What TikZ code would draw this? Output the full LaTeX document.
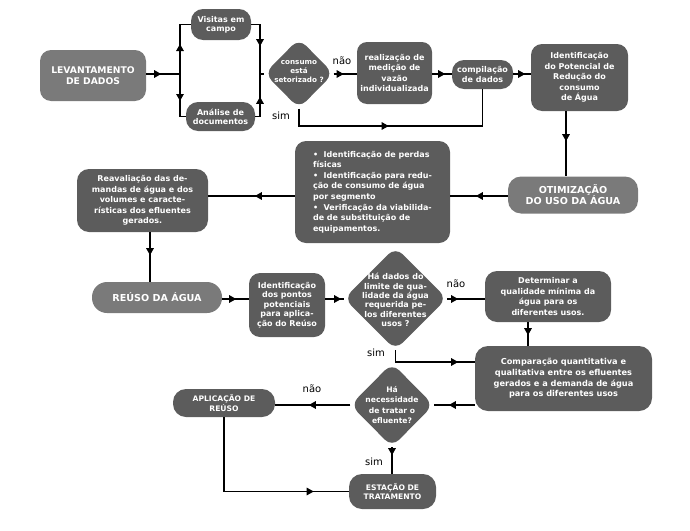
\documentclass[tikz,border=0pt]{standalone}
\usepackage{fontspec}
\setmainfont{DejaVu Sans}
\usetikzlibrary{shapes.geometric,arrows.meta,decorations.markings}
\definecolor{dk}{HTML}{5C5C5C}
\definecolor{lt}{HTML}{7A7A7A}
\begin{document}
\begin{tikzpicture}[x=1pt,y=-1pt,
 box/.style={fill=dk, text=white, rounded corners=10pt, font=\bfseries\fontsize{8}{10.6}\selectfont, align=center, inner sep=1pt},
 lbox/.style={box, fill=lt},
 diam/.style={diamond, fill=dk, rounded corners=10pt, inner sep=0pt},
 dtext/.style={text=white, font=\bfseries\fontsize{7.6}{9.5}\selectfont, align=center, inner sep=0pt},
 lab/.style={font=\fontsize{10}{12}\selectfont, inner sep=0pt},
 conn/.style={line width=1.3pt},
 ar/.style={postaction={decorate}, decoration={markings, mark=at position #1 with {\arrow{Triangle[length=7pt,width=7.5pt]}}}}
]
\useasboundingbox (0,0) rectangle (690,530);

% nodes
\node[lbox, minimum width=106pt, minimum height=51pt, rounded corners=11pt, font=\bfseries\fontsize{9.2}{11}\selectfont] (lev) at (93,75.5) {LEVANTAMENTO\\DE DADOS};
\node[box, minimum width=60pt, minimum height=31pt, rounded corners=12pt, font=\bfseries\fontsize{8}{9}\selectfont] (vis) at (221,24.5) {Visitas em\\campo};
\node[box, minimum width=69pt, minimum height=29pt, rounded corners=12pt, font=\bfseries\fontsize{8}{9}\selectfont] (ana) at (220.5,116.5) {Análise de\\documentos};
\node[diam, minimum width=69pt, minimum height=70pt] (d1) at (299,73.5) {};
\node[dtext, font=\bfseries\fontsize{7.2}{9.2}\selectfont] (t1) at (299,71.5) {consumo\\está\\setorizado ?};
\node[box, minimum width=75pt, minimum height=62pt] (rea) at (394.5,73) {realização de\\medição de\\vazão\\individualizada};
\node[box, minimum width=61pt, minimum height=29pt, rounded corners=12pt, font=\bfseries\fontsize{8}{10}\selectfont] (com) at (482.5,74.5) {compilação\\de dados};
\node[box, minimum width=97pt, minimum height=67pt, rounded corners=11pt] (ide) at (579.5,77.5) {Identificação\\do Potencial de\\Redução do\\consumo\\de Água};
\node[lbox, minimum width=130pt, minimum height=37pt, rounded corners=13pt, font=\bfseries\fontsize{9.6}{11}\selectfont] (oti) at (573,195) {OTIMIZAÇÃO\\DO USO DA ÁGUA};
\node[box, minimum width=155pt, minimum height=102pt, align=left, rounded corners=11pt] (bul) at (372.5,192) {•\ \ Identificação de perdas\\físicas\\•\ \ Identificação para redu-\\ção de consumo de água\\por segmento\\•\ \ Verificação da viabilida-\\de de substituição de\\equipamentos.};
\node[box, minimum width=131pt, minimum height=63pt, rounded corners=12pt] (rev) at (142.5,200.5) {Reavaliação das de-\\mandas de água e dos\\volumes e caracte-\\rísticas dos efluentes\\gerados.};
\node[lbox, minimum width=130pt, minimum height=31pt, rounded corners=15pt, font=\bfseries\fontsize{9.6}{11}\selectfont] (reu) at (157,297.5) {REÚSO DA ÁGUA};
\node[box, minimum width=76pt, minimum height=64pt, rounded corners=11pt, font=\bfseries\fontsize{8}{9.5}\selectfont] (idp) at (287,305) {Identificação\\dos pontos\\potenciais\\para aplica-\\ção do Reúso};
\node[diam, minimum width=103pt, minimum height=103pt] (d2) at (395.5,298.5) {};
\node[dtext, font=\bfseries\fontsize{8}{9.3}\selectfont] (t2) at (395.5,300) {Há dados do\\limite de qua-\\lidade da água\\requerida pe-\\los diferentes\\usos ?};
\node[box, minimum width=126pt, minimum height=51pt, rounded corners=12pt] (det) at (548,296.5) {Determinar a\\qualidade mínima da\\água para os\\diferentes usos.};
\node[box, minimum width=177pt, minimum height=65pt, rounded corners=13pt, font=\bfseries\fontsize{8.2}{10.6}\selectfont] (cmp) at (563.5,378.5) {Comparação quantitativa e\\qualitativa entre os efluentes\\gerados e a demanda de água\\para os diferentes usos};
\node[diam, minimum width=83pt, minimum height=84pt] (d3) at (392,405) {};
\node[dtext, font=\bfseries\fontsize{7.6}{10.5}\selectfont] (t3) at (d3) {Há\\necessidade\\de tratar o\\efluente?};
\node[box, minimum width=102pt, minimum height=28pt, rounded corners=13pt, font=\bfseries\fontsize{7.6}{9.3}\selectfont] (apl) at (224,403) {APLICAÇÃO DE\\REÚSO};
\node[box, minimum width=87pt, minimum height=35pt, rounded corners=13pt, font=\bfseries\fontsize{7.6}{9.3}\selectfont] (est) at (392.5,491.5) {ESTAÇÃO DE\\TRATAMENTO};

% labels
\node[lab] (n1) at (342,61) {não};
\node[lab] (s1) at (281,116) {sim};
\node[lab] (n2) at (456,284) {não};
\node[lab] (s2) at (376,353) {sim};
\node[lab] (n3) at (312,389) {não};
\node[lab] (s3) at (374,462) {sim};

% coordinates
\coordinate (r1) at (0,74);
\coordinate (bl) at (180,74);
\coordinate (brr) at (260,74);
\coordinate (c6) at (0,126);
\coordinate (c7) at (566,0);
\coordinate (r3) at (0,196);
\coordinate (c10) at (150,0);
\coordinate (r2) at (0,299);
\coordinate (c14) at (528,0);
\coordinate (c15) at (0,362);

% connectors
\draw[conn, ar=15pt] (lev.east |- r1) -- (bl);
\draw[conn, ar=30pt] (bl) -- (bl |- vis.west) -- (vis.west);
\draw[conn, ar=27pt] (bl) -- (bl |- ana.west) -- (ana.west);
\draw[conn, ar=30.5pt] (vis.east) -- (brr |- vis.east) -- (brr);
\draw[conn, ar=24.5pt] (ana.east) -- (brr |- ana.east) -- (brr);
\draw[conn] (brr) -- (d1.west |- r1);
\draw[conn, ar=10pt] (d1.east |- r1) -- (rea.west |- r1);
\draw[conn, ar=13pt] (rea.east |- r1) -- (com.west |- r1);
\draw[conn, ar=12pt] (com.east |- r1) -- (ide.west |- r1);
\draw[conn, ar=107pt] (d1.south) -- (d1.south |- c6) -- (com.south |- c6) -- (com.south);
\draw[conn, ar=30pt] (ide.south -| c7) -- (oti.north -| c7);
\draw[conn, ar=32pt] (oti.west |- r3) -- (bul.east |- r3);
\draw[conn, ar=40pt] (bul.west |- r3) -- (rev.east |- r3);
\draw[conn, ar=23pt] (rev.south -| c10) -- (reu.north -| c10);
\draw[conn, ar=14pt] (reu.east |- r2) -- (idp.west |- r2);
\draw[conn, ar=16pt] (idp.east |- r2) -- (d2.west |- r2);
\draw[conn, ar=11pt] (d2.east |- r2) -- (det.west |- r2);
\draw[conn, ar=13pt] (det.south -| c14) -- (cmp.north -| c14);
\draw[conn, ar=74.5pt] (d2.south) -- (d2.south |- c15) -- (cmp.west |- c15);
\draw[conn, ar=26pt] (cmp.west |- d3.east) -- (d3.east);
\draw[conn, ar=41.5pt] (d3.west) -- (apl.east |- d3.west);
\draw[conn, ar=8pt] (d3.south) -- (d3.south |- est.north);
\draw[conn, ar=164pt] (apl.south) -- (apl.south |- est.west) -- (est.west);
\end{tikzpicture}
\end{document}
